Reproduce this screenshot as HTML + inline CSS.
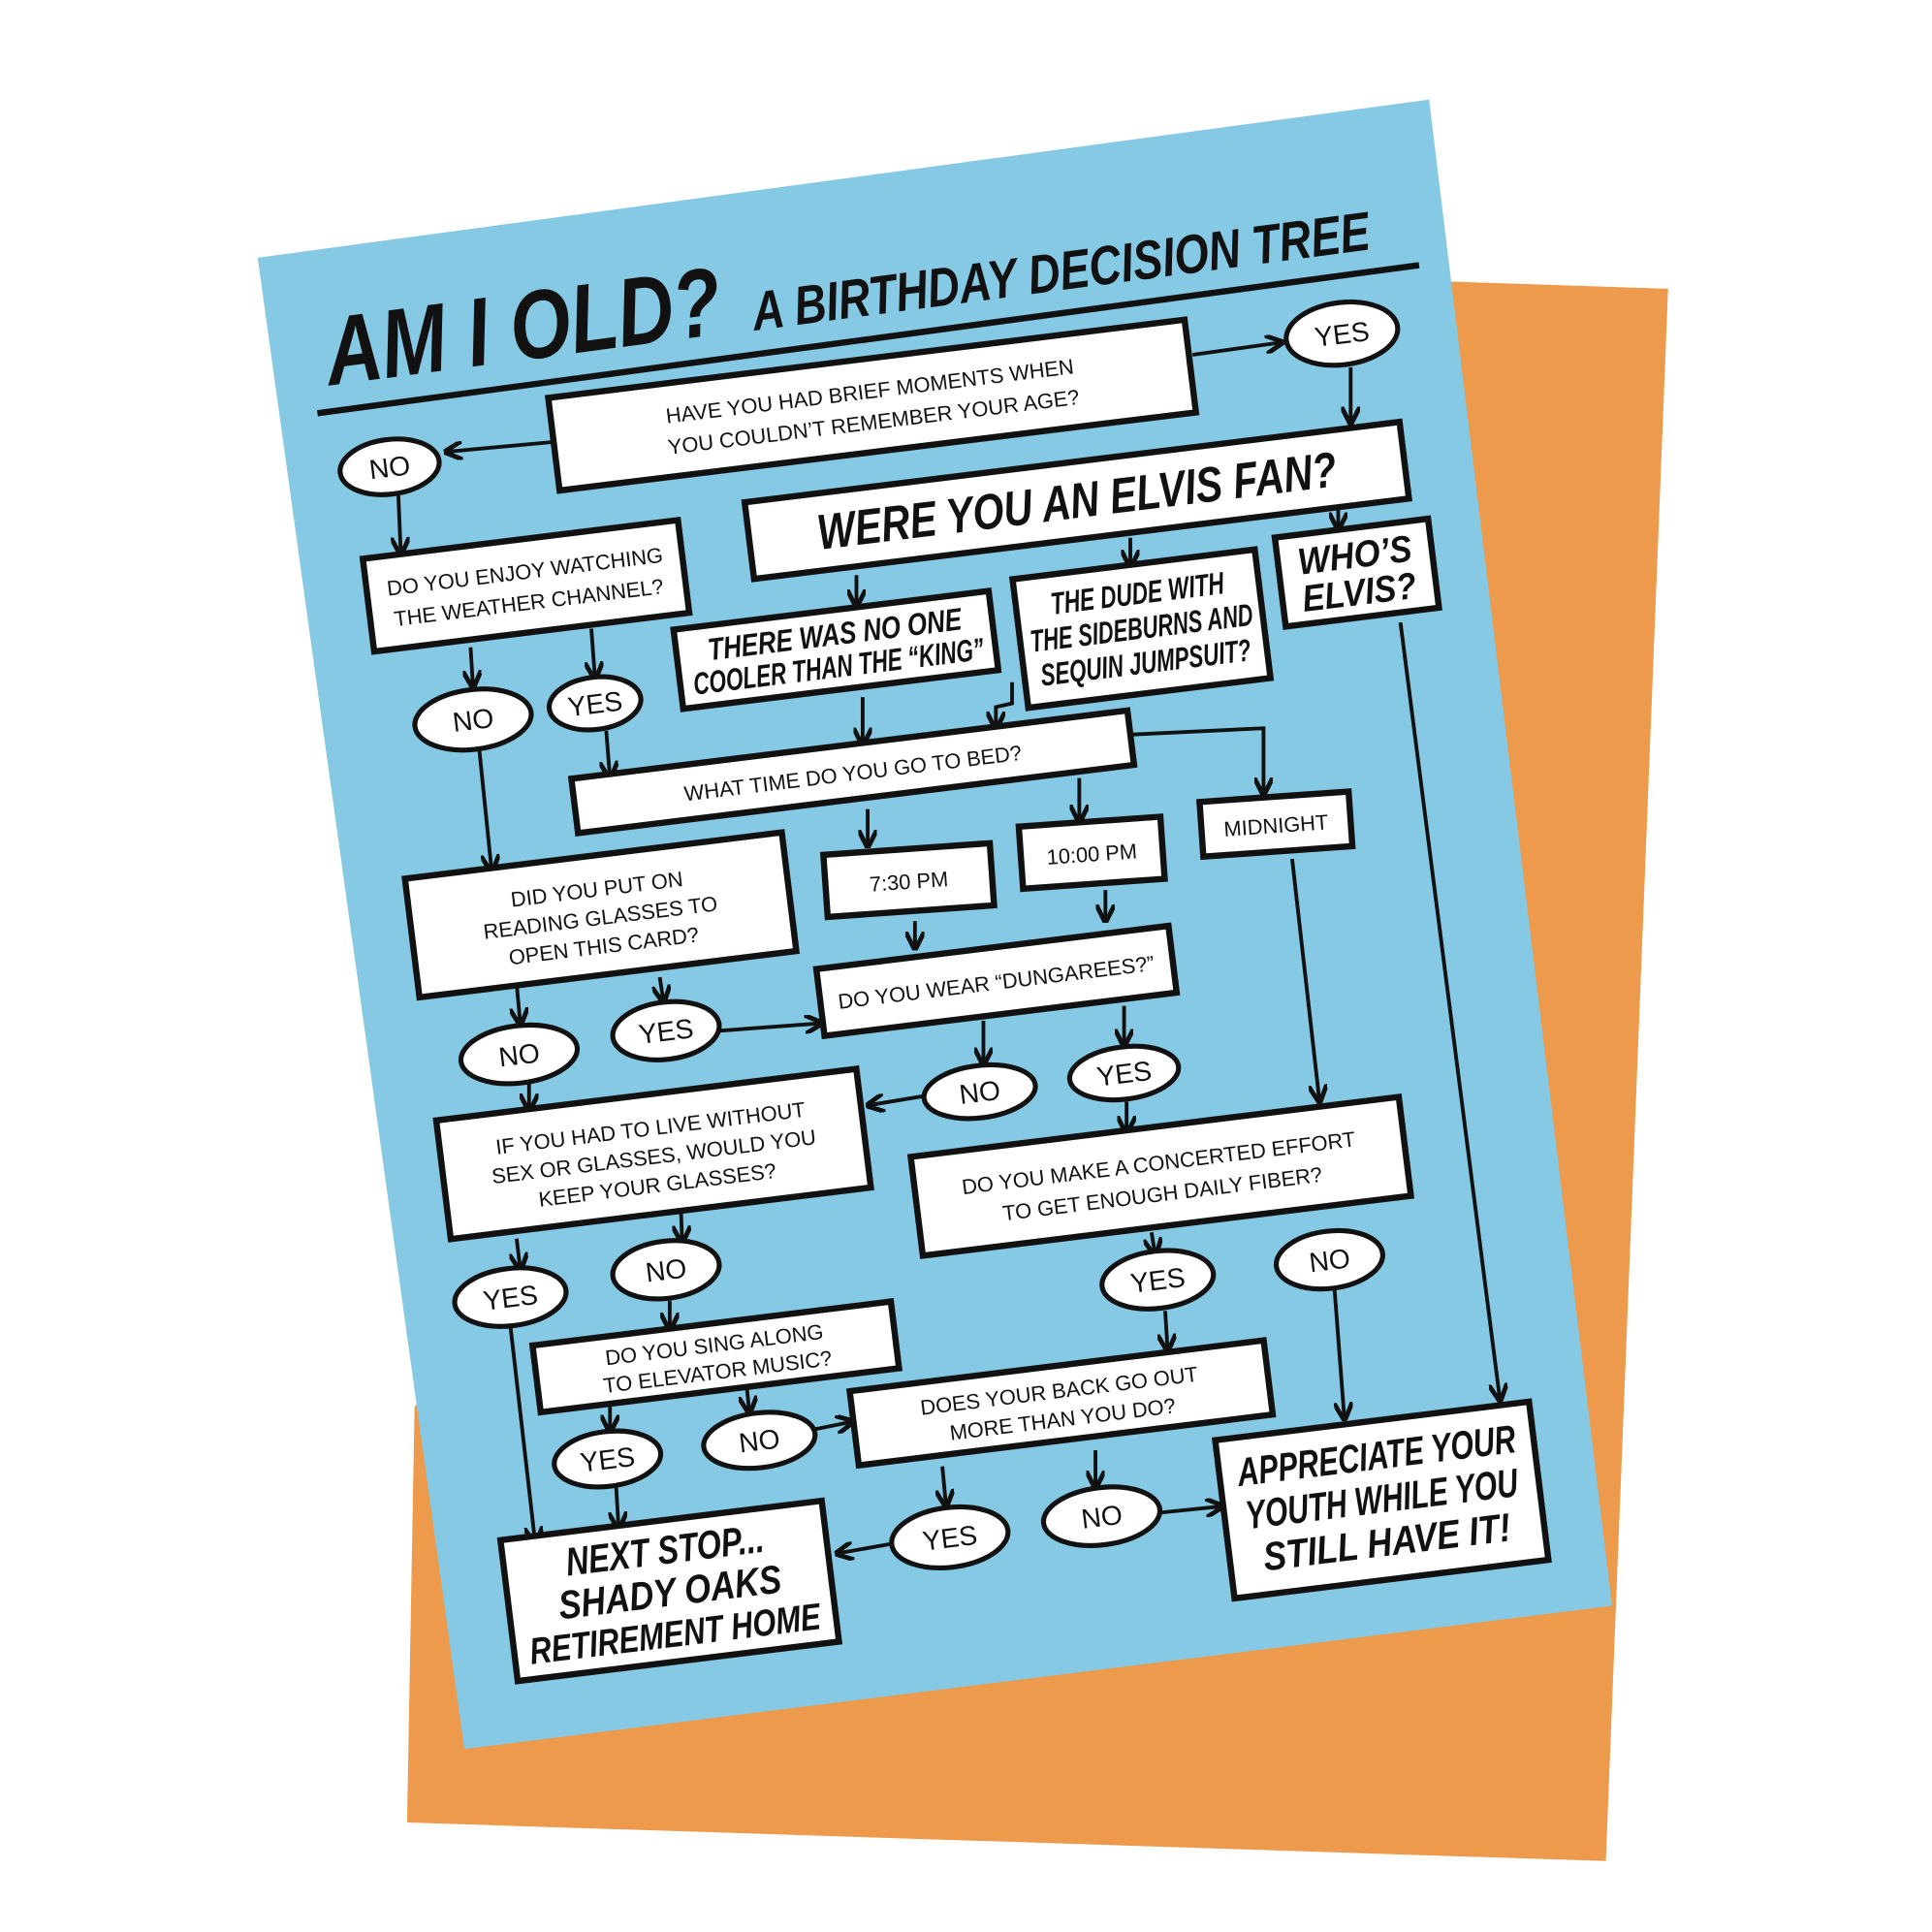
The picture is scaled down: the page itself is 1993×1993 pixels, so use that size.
<!DOCTYPE html>
<html><head><meta charset="utf-8"><style>
html,body{margin:0;padding:0;background:#fff;}
svg{display:block}
text{font-family:"Liberation Sans",sans-serif;fill:#111;text-anchor:middle;}
.b{fill:#fff;stroke:#111;stroke-width:5}
.o{fill:#fff;stroke:#111;stroke-width:4}
.t{font-size:17px;}
.ot{font-size:22px;}
.h{font-family:"Liberation Sans Narrow","Liberation Sans",sans-serif;font-weight:bold;font-style:italic;}
.l{stroke:#111;stroke-width:3;fill:none;marker-end:url(#a)}
</style></head><body>
<svg width="1993" height="1993" viewBox="0 0 1552 1552" xmlns="http://www.w3.org/2000/svg">
<defs><marker id="a" viewBox="0 0 10 10" refX="9" refY="5" markerWidth="5" markerHeight="5" orient="auto"><path d="M0,0 L10,5 L0,10" fill="none" stroke="#111" stroke-width="2.5"/></marker></defs>
<rect width="1552" height="1552" fill="#fff"/>
<polygon points="1160,226 1340,232 1290,1495 327,1464 333,1130" fill="#ee9a4c"/>
<polygon points="207,207 1148,80 1295,1290 373,1405" fill="#85c9e4"/>

<!-- title -->
<g transform="translate(420,262) rotate(-7.5)"><text class="h" font-size="78" y="27" textLength="320" lengthAdjust="spacingAndGlyphs">AM I OLD?</text></g>
<g transform="translate(852,218) rotate(-7.5)"><text class="h" font-size="44" y="15" textLength="500" lengthAdjust="spacingAndGlyphs">A BIRTHDAY DECISION TREE</text></g>
<line x1="255" y1="332" x2="1140" y2="213" stroke="#111" stroke-width="5"/>

<!-- arrows -->
<path class="l" d="M958,285 L1030,275"/>
<path class="l" d="M1085,295 L1085,340"/>
<path class="l" d="M445,355 L358,363"/>
<path class="l" d="M320,398 L322,445"/>
<path class="l" d="M688,462 L688,487"/>
<path class="l" d="M908,432 L908,455"/>
<path class="l" d="M1075,395 L1075,425"/>
<path class="l" d="M378,520 L380,552"/>
<path class="l" d="M475,505 L478,545"/>
<path class="l" d="M487,587 L490,625"/>
<path class="l" d="M693,560 L693,598"/>
<path class="l" d="M813,548 L813,565 L800,568 L800,585"/>
<path class="l" d="M910,590 L1015,585 L1015,638"/>
<path class="l" d="M697,650 L697,680"/>
<path class="l" d="M867,625 L867,660"/>
<path class="l" d="M385,602 L395,700"/>
<path class="l" d="M735,740 L735,762"/>
<path class="l" d="M888,715 L888,740"/>
<path class="l" d="M1038,690 L1060,885"/>
<path class="l" d="M415,790 L418,823"/>
<path class="l" d="M530,785 L533,805"/>
<path class="l" d="M578,828 L660,822"/>
<path class="l" d="M790,820 L790,855"/>
<path class="l" d="M903,808 L903,840"/>
<path class="l" d="M745,880 L697,888"/>
<path class="l" d="M905,885 L905,910"/>
<path class="l" d="M425,870 L425,892"/>
<path class="l" d="M415,995 L418,1020"/>
<path class="l" d="M547,972 L548,998"/>
<path class="l" d="M538,1045 L538,1068"/>
<path class="l" d="M410,1065 L430,1240"/>
<path class="l" d="M490,1130 L490,1150"/>
<path class="l" d="M600,1115 L602,1135"/>
<path class="l" d="M495,1195 L497,1228"/>
<path class="l" d="M655,1148 L685,1142"/>
<path class="l" d="M936,1053 L938,1085"/>
<path class="l" d="M925,990 L928,1008"/>
<path class="l" d="M1072,1035 L1080,1140"/>
<path class="l" d="M757,1178 L760,1210"/>
<path class="l" d="M880,1165 L880,1195"/>
<path class="l" d="M717,1240 L672,1248"/>
<path class="l" d="M933,1215 L982,1210"/>
<path class="l" d="M1125,500 L1205,1125"/>

<!-- boxes -->
<g transform="translate(700,325) rotate(-7)"><rect class="b" x="-257" y="-37" width="515" height="75"/><text class="t" y="-5">HAVE YOU HAD BRIEF MOMENTS WHEN</text><text class="t" y="20">YOU COULDN’T REMEMBER YOUR AGE?</text></g>
<g transform="translate(865,402) rotate(-7)"><rect class="b" x="-265" y="-31" width="530" height="62"/><text class="h" font-size="40" y="14" textLength="420" lengthAdjust="spacingAndGlyphs">WERE YOU AN ELVIS FAN?</text></g>
<g transform="translate(423,470) rotate(-7)"><rect class="b" x="-128" y="-37" width="255" height="75"/><text class="t" y="-5">DO YOU ENJOY WATCHING</text><text class="t" y="20">THE WEATHER CHANNEL?</text></g>
<g transform="translate(672,522) rotate(-7)"><rect class="b" x="-128" y="-32" width="255" height="64"/><text class="h" font-size="25" y="-4" textLength="205" lengthAdjust="spacingAndGlyphs">THERE WAS NO ONE</text><text class="h" font-size="25" y="22" textLength="235" lengthAdjust="spacingAndGlyphs">COOLER THAN THE “KING”</text></g>
<g transform="translate(917,505) rotate(-7)"><rect class="b" x="-98" y="-52" width="196" height="104"/><text class="h" font-size="25" y="-20" textLength="140" lengthAdjust="spacingAndGlyphs">THE DUDE WITH</text><text class="h" font-size="25" y="8" textLength="180" lengthAdjust="spacingAndGlyphs">THE SIDEBURNS AND</text><text class="h" font-size="25" y="36" textLength="170" lengthAdjust="spacingAndGlyphs">SEQUIN JUMPSUIT?</text></g>
<g transform="translate(1090,460) rotate(-7)"><rect class="b" x="-62" y="-36" width="124" height="72"/><text class="h" font-size="30" y="-4" textLength="92" lengthAdjust="spacingAndGlyphs">WHO’S</text><text class="h" font-size="30" y="26" textLength="92" lengthAdjust="spacingAndGlyphs">ELVIS?</text></g>
<g transform="translate(685,620) rotate(-7)"><rect class="b" x="-225" y="-22" width="450" height="44"/><text class="t" y="7">WHAT TIME DO YOU GO TO BED?</text></g>
<g transform="translate(1025,662) rotate(-4)"><rect class="b" x="-60" y="-22" width="120" height="44"/><text class="t" y="7">MIDNIGHT</text></g>
<g transform="translate(877,685) rotate(-4)"><rect class="b" x="-57" y="-25" width="114" height="50"/><text class="t" y="7">10:00 PM</text></g>
<g transform="translate(730,707) rotate(-4)"><rect class="b" x="-67" y="-25" width="134" height="50"/><text class="t" y="7">7:30 PM</text></g>
<g transform="translate(482,735) rotate(-7)"><rect class="b" x="-152" y="-48" width="305" height="96"/><text class="t" y="-15">DID YOU PUT ON</text><text class="t" y="8">READING GLASSES TO</text><text class="t" y="31">OPEN THIS CARD?</text></g>
<g transform="translate(800,788) rotate(-7)"><rect class="b" x="-142" y="-27" width="285" height="54"/><text class="t" y="7">DO YOU WEAR “DUNGAREES?”</text></g>
<g transform="translate(525,927) rotate(-7)"><rect class="b" x="-170" y="-48" width="340" height="96"/><text class="t" y="-15">IF YOU HAD TO LIVE WITHOUT</text><text class="t" y="8">SEX OR GLASSES, WOULD YOU</text><text class="t" y="31">KEEP YOUR GLASSES?</text></g>
<g transform="translate(932,945) rotate(-7)"><rect class="b" x="-197" y="-40" width="395" height="80"/><text class="t" y="-5">DO YOU MAKE A CONCERTED EFFORT</text><text class="t" y="20">TO GET ENOUGH DAILY FIBER?</text></g>
<g transform="translate(575,1090) rotate(-7)"><rect class="b" x="-145" y="-27" width="290" height="54"/><text class="t" y="-4">DO YOU SING ALONG</text><text class="t" y="18">TO ELEVATOR MUSIC?</text></g>
<g transform="translate(852,1127) rotate(-7)"><rect class="b" x="-167" y="-30" width="335" height="60"/><text class="t" y="-4">DOES YOUR BACK GO OUT</text><text class="t" y="19">MORE THAN YOU DO?</text></g>
<g transform="translate(538,1278) rotate(-7)"><rect class="b" x="-130" y="-57" width="260" height="114"/><text class="h" font-size="32" y="-22" textLength="160" lengthAdjust="spacingAndGlyphs">NEXT STOP...</text><text class="h" font-size="32" y="12" textLength="180" lengthAdjust="spacingAndGlyphs">SHADY OAKS</text><text class="h" font-size="30" y="45" textLength="235" lengthAdjust="spacingAndGlyphs">RETIREMENT HOME</text></g>
<g transform="translate(1110,1205) rotate(-7)"><rect class="b" x="-127" y="-64" width="254" height="128"/><text class="h" font-size="32" y="-25" textLength="225" lengthAdjust="spacingAndGlyphs">APPRECIATE YOUR</text><text class="h" font-size="32" y="10" textLength="220" lengthAdjust="spacingAndGlyphs">YOUTH WHILE YOU</text><text class="h" font-size="32" y="45" textLength="200" lengthAdjust="spacingAndGlyphs">STILL HAVE IT!</text></g>

<!-- ovals -->
<g transform="translate(1078,268) rotate(-7)"><ellipse class="o" rx="45" ry="25"/><text class="ot" y="8">YES</text></g>
<g transform="translate(313,375) rotate(-7)"><ellipse class="o" rx="40" ry="22"/><text class="ot" y="8">NO</text></g>
<g transform="translate(380,578) rotate(-7)"><ellipse class="o" rx="47" ry="24"/><text class="ot" y="8">NO</text></g>
<g transform="translate(478,565) rotate(-7)"><ellipse class="o" rx="37" ry="21"/><text class="ot" y="8">YES</text></g>
<g transform="translate(417,847) rotate(-7)"><ellipse class="o" rx="47" ry="23"/><text class="ot" y="8">NO</text></g>
<g transform="translate(535,828) rotate(-7)"><ellipse class="o" rx="43" ry="23"/><text class="ot" y="8">YES</text></g>
<g transform="translate(787,877) rotate(-7)"><ellipse class="o" rx="45" ry="21"/><text class="ot" y="8">NO</text></g>
<g transform="translate(903,862) rotate(-7)"><ellipse class="o" rx="44" ry="21"/><text class="ot" y="8">YES</text></g>
<g transform="translate(410,1042) rotate(-7)"><ellipse class="o" rx="45" ry="23"/><text class="ot" y="8">YES</text></g>
<g transform="translate(535,1020) rotate(-7)"><ellipse class="o" rx="43" ry="23"/><text class="ot" y="8">NO</text></g>
<g transform="translate(930,1028) rotate(-7)"><ellipse class="o" rx="45" ry="23"/><text class="ot" y="8">YES</text></g>
<g transform="translate(1068,1012) rotate(-7)"><ellipse class="o" rx="43" ry="23"/><text class="ot" y="8">NO</text></g>
<g transform="translate(488,1172) rotate(-7)"><ellipse class="o" rx="43" ry="22"/><text class="ot" y="8">YES</text></g>
<g transform="translate(610,1157) rotate(-7)"><ellipse class="o" rx="45" ry="22"/><text class="ot" y="8">NO</text></g>
<g transform="translate(763,1235) rotate(-7)"><ellipse class="o" rx="47" ry="24"/><text class="ot" y="8">YES</text></g>
<g transform="translate(885,1218) rotate(-7)"><ellipse class="o" rx="47" ry="23"/><text class="ot" y="8">NO</text></g>
</svg>
</body></html>
